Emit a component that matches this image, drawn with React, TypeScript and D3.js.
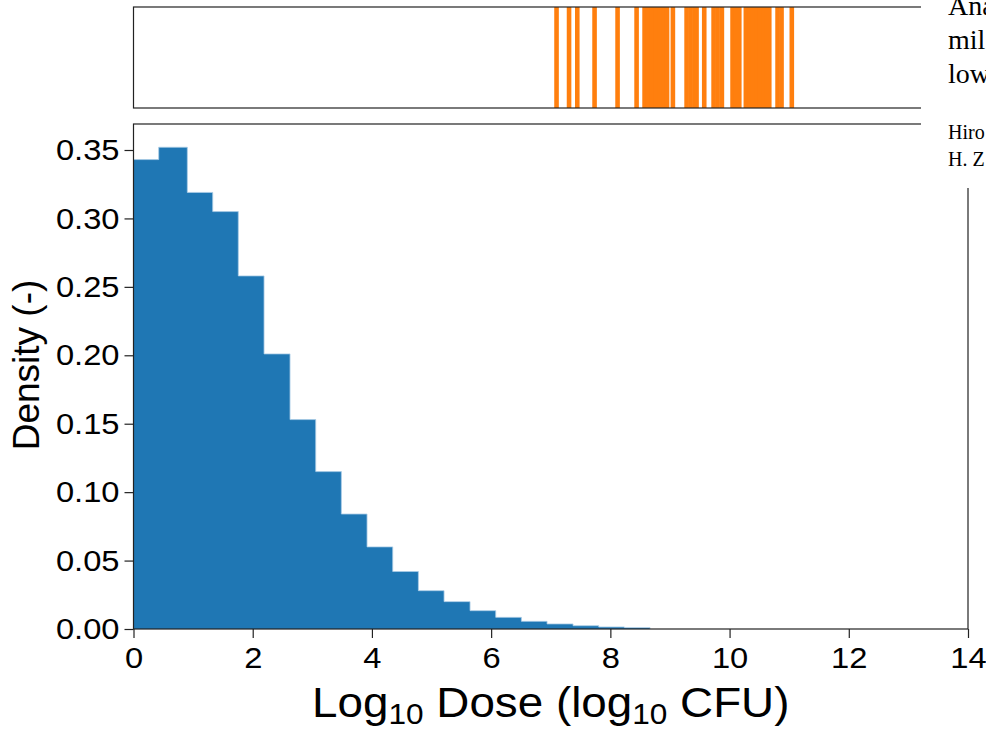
import React, { useEffect, useRef } from 'react';
import * as d3 from 'd3';

// histogram bins (log10 CFU) and density per bin
const binEdges = [0, 0.423, 0.903, 1.329, 1.758, 2.19, 2.626, 3.057, 3.487, 3.918, 4.349,
  4.779, 5.21, 5.646, 6.077, 6.507, 6.938, 7.374, 7.805, 8.235, 8.666];
const densities = [0.343, 0.352, 0.319, 0.305, 0.258, 0.201, 0.153, 0.115, 0.084, 0.06,
  0.042, 0.028, 0.02, 0.0134, 0.0085, 0.0056, 0.0037, 0.0024, 0.0015, 0.001];

// rug of observed doses shown in the top strip
const rugValues = [7.097, 7.307, 7.445, 7.735, 8.121, 8.44, 8.574, 8.632, 8.7, 8.767, 8.834,
  8.901, 8.951, 9.049, 9.279, 9.346, 9.413, 9.446, 9.575, 9.732, 9.799, 9.871, 10.05,
  10.109, 10.163, 10.273, 10.336, 10.394, 10.453, 10.512, 10.57, 10.621, 10.666, 10.805,
  10.872, 11.044];

const xTicks = [0, 2, 4, 6, 8, 10, 12, 14];
const yTicks = [0, 0.05, 0.1, 0.15, 0.2, 0.25, 0.3, 0.35];

const pageWordsLarge = ['Ana', 'mil', 'low'];
const pageWordsSmall = ['Hiro', 'H. Z'];

const W = 986, H = 729;
const SANS = '"Liberation Sans", Arial, sans-serif';
const SX = 1.09; // the figure is a bit wider than the font

export default function App() {
  const ref = useRef<SVGSVGElement>(null);

  useEffect(() => {
    const svg = d3.select(ref.current);
    svg.selectAll('*').remove();

    const x = d3.scaleLinear().domain([0, 14]).range([133.5, 968]);
    const y = d3.scaleLinear().domain([0, 0.35]).range([629, 150]);
    const top = 124;

    // top strip with rug
    const rugTop = 7, rugBottom = 108;
    svg.append('g')
      .selectAll('line')
      .data(rugValues)
      .enter().append('line')
        .attr('x1', d => x(d)).attr('x2', d => x(d))
        .attr('y1', rugTop).attr('y2', rugBottom)
        .attr('stroke', '#ff7f0e')
        .attr('stroke-width', 4.6);
    svg.append('rect')
      .attr('x', x(0)).attr('y', rugTop)
      .attr('width', x(14) - x(0)).attr('height', rugBottom - rugTop)
      .attr('fill', 'none').attr('stroke', '#222').attr('stroke-width', 1.2);

    // histogram drawn as one step shape so the bars don't show seams
    const steps: [number, number][] = [[x(binEdges[0]), y(0)]];
    densities.forEach((d, i) => {
      steps.push([x(binEdges[i]), y(d)]);
      steps.push([x(binEdges[i + 1]), y(d)]);
    });
    steps.push([x(binEdges[binEdges.length - 1]), y(0)]);
    svg.append('path')
      .attr('d', d3.line()(steps) + 'Z')
      .attr('fill', '#1f77b4');
    svg.append('path')
      .attr('d', d3.line()(steps.slice(1)))
      .attr('fill', 'none').attr('stroke', '#a9cbe6').attr('stroke-width', 0.8);

    svg.append('rect')
      .attr('x', x(0)).attr('y', top)
      .attr('width', x(14) - x(0)).attr('height', y(0) - top)
      .attr('fill', 'none').attr('stroke', '#222').attr('stroke-width', 1.2);

    const yAxis = svg.append('g')
      .attr('transform', `translate(${x(0)},0)`)
      .call(d3.axisLeft(y).tickValues(yTicks).tickFormat(d3.format('.2f')).tickSize(9));
    yAxis.select('.domain').remove();
    yAxis.selectAll('line').attr('stroke', '#222').attr('stroke-width', 1.2);
    yAxis.selectAll('text')
      .attr('x', -14 / SX)
      .attr('transform', `scale(${SX},1)`)
      .style('font-family', SANS).style('font-size', '30px').attr('fill', '#000');

    const xAxis = svg.append('g')
      .attr('transform', `translate(0,${y(0)})`)
      .call(d3.axisBottom(x).tickValues(xTicks).tickFormat(d3.format('d')).tickSize(9));
    xAxis.select('.domain').remove();
    xAxis.selectAll('line').attr('stroke', '#222').attr('stroke-width', 1.2);
    xAxis.selectAll('.tick text')
      .attr('y', 18)
      .attr('x', 0)
      .attr('transform', `scale(${SX},1)`)
      .style('font-family', SANS).style('font-size', '30px').attr('fill', '#000');

    // axis titles
    const xl = svg.append('text')
      .attr('transform', `translate(${(x(0) + x(14)) / 2},717) scale(${SX},1)`)
      .attr('text-anchor', 'middle')
      .style('font-family', SANS).style('font-size', '42px');
    xl.append('tspan').text('Log');
    xl.append('tspan').attr('font-size', '29px').attr('dy', 7).text('10');
    xl.append('tspan').attr('dy', -7).text(' Dose (log');
    xl.append('tspan').attr('font-size', '29px').attr('dy', 7).text('10');
    xl.append('tspan').attr('dy', -7).text(' CFU)');

    svg.append('text')
      .attr('transform', `translate(39,365) rotate(-90)`)
      .attr('text-anchor', 'middle')
      .style('font-family', SANS).style('font-size', '37px')
      .text('Density (-)');

    // page text that overlaps the figure corner
    svg.append('rect')
      .attr('x', 921).attr('y', 0).attr('width', W - 921).attr('height', 188)
      .attr('fill', '#fff');
    svg.append('g')
      .selectAll('text')
      .data(pageWordsLarge)
      .enter().append('text')
        .attr('x', 948).attr('y', (d, i) => 15 + i * 34)
        .style('font-family', '"Liberation Serif", serif').style('font-size', '28px')
        .text(d => d);
    svg.append('g')
      .selectAll('text')
      .data(pageWordsSmall)
      .enter().append('text')
        .attr('x', 948).attr('y', (d, i) => 139 + i * 27)
        .style('font-family', '"Liberation Serif", serif').style('font-size', '20px')
        .text(d => d);
  }, []);

  return (
    <svg ref={ref} width={W} height={H}
      style={{ position: 'absolute', left: 0, top: 0, background: '#fff' }} />
  );
}
